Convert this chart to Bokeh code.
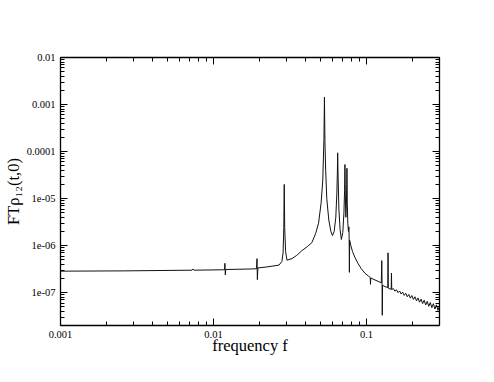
import numpy as np
from bokeh.plotting import figure
from bokeh.models import Range1d, LogAxis, LogTicker, CustomJSTickFormatter
from bokeh.embed import file_html
from bokeh.resources import INLINE

# ---- data ----
freq = [0.00100, 0.00257, 0.00725, 0.00736, 0.00747, 0.01144, 0.01180, 0.01187, 0.01195, 0.01202,
        0.01791, 0.01910, 0.01925, 0.01935, 0.01950, 0.02240, 0.02680, 0.02800, 0.02850, 0.02880,
        0.02900, 0.02920, 0.02960, 0.03020, 0.03260, 0.03500, 0.03780, 0.04100, 0.04390, 0.04650,
        0.04860, 0.05050, 0.05180, 0.05270, 0.05310, 0.05350, 0.05410, 0.05500, 0.05670, 0.05850,
        0.05990, 0.06150, 0.06300, 0.06400, 0.06450, 0.06480, 0.06520, 0.06600, 0.06720, 0.06850,
        0.07000, 0.07120, 0.07190, 0.07230, 0.07270, 0.07330, 0.07390, 0.07430, 0.07450, 0.07490,
        0.07550, 0.07620, 0.07670, 0.07700, 0.07730, 0.07760, 0.07900, 0.08100, 0.08400, 0.08830,
        0.09200, 0.09750, 0.10300, 0.10580, 0.10620, 0.10660, 0.11200, 0.11910, 0.12500, 0.12580,
        0.12640, 0.12680, 0.12740, 0.13000, 0.13400, 0.13780, 0.13830, 0.13880, 0.13960, 0.14500,
        0.14560, 0.14620]
ft = [2.86e-7, 2.90e-7, 3.00e-7, 3.19e-7, 3.00e-7, 3.06e-7, 3.07e-7, 4.20e-7, 2.38e-7, 3.10e-7,
      3.19e-7, 3.22e-7, 5.28e-7, 1.89e-7, 3.35e-7, 3.52e-7, 3.85e-7, 4.60e-7, 7.00e-7, 2.40e-6,
      2.00e-5, 2.40e-6, 7.50e-7, 4.90e-7, 5.30e-7, 6.20e-7, 7.80e-7, 9.50e-7, 1.15e-6, 1.80e-6,
      3.00e-6, 8.00e-6, 2.50e-5, 1.80e-4, 1.43e-3, 1.60e-4, 4.00e-5, 1.00e-5, 3.50e-6, 2.00e-6,
      1.63e-6, 2.00e-6, 4.00e-6, 1.30e-5, 3.50e-5, 9.40e-5, 3.00e-5, 6.00e-6, 2.20e-6, 1.35e-6,
      1.90e-6, 5.00e-6, 1.50e-5, 5.30e-5, 1.20e-5, 4.00e-6, 8.00e-6, 2.00e-5, 4.40e-5, 8.00e-6,
      3.00e-6, 2.00e-6, 2.50e-6, 1.60e-6, 2.70e-7, 1.30e-6, 1.00e-6, 7.50e-7, 5.60e-7, 4.10e-7,
      3.30e-7, 2.60e-7, 2.25e-7, 2.10e-7, 1.50e-7, 2.05e-7, 1.90e-7, 1.74e-7, 1.62e-7, 4.80e-7,
      1.50e-7, 3.30e-8, 1.45e-7, 1.38e-7, 1.32e-7, 1.28e-7, 7.00e-7, 1.25e-7, 1.22e-7, 1.18e-7,
      2.60e-7, 1.17e-7]
# noisy high-frequency tail
tail_freq = [0.1500, 0.1535, 0.1571, 0.1608, 0.1646, 0.1684, 0.1723, 0.1764, 0.1805, 0.1847,
             0.1890, 0.1934, 0.1980, 0.2026, 0.2073, 0.2122, 0.2171, 0.2222, 0.2274, 0.2327,
             0.2382, 0.2437, 0.2494, 0.2553, 0.2612, 0.2673, 0.2736, 0.2800, 0.2865, 0.2932, 0.3000]
tail_ft = [1.213e-7, 1.072e-7, 1.146e-7, 1.002e-7, 1.084e-7, 9.35e-8, 1.023e-7, 8.75e-8, 9.68e-8, 8.18e-8,
           9.14e-8, 7.64e-8, 8.65e-8, 7.16e-8, 8.17e-8, 6.70e-8, 7.71e-8, 6.27e-8, 7.28e-8, 5.85e-8,
           6.90e-8, 5.47e-8, 6.52e-8, 5.12e-8, 6.15e-8, 4.79e-8, 5.82e-8, 4.48e-8, 5.50e-8, 4.19e-8, 5.19e-8]

x_ticks = [0.001, 0.01, 0.1]
x_labels = ["0.001", "0.01", "0.1"]
y_ticks = [1e-7, 1e-6, 1e-5, 1e-4, 1e-3, 1e-2]
y_labels = ["1e-07", "1e-06", "1e-05", "0.0001", "0.001", "0.01"]
x_title = "frequency f"
y_title = "FT\u03c1\u2081\u2082(t,0)"

FONT = "Liberation Serif"

p = figure(width=494, height=382, x_axis_type="log", y_axis_type="log",
           x_range=Range1d(0.001, 0.3), y_range=Range1d(2e-8, 0.01),
           output_backend="svg", toolbar_location=None,
           min_border_left=57, min_border_right=55, min_border_top=57, min_border_bottom=57)
p.background_fill_color = "white"
p.border_fill_color = "white"
p.outline_line_color = None
p.xgrid.visible = False
p.ygrid.visible = False

fmt_code = """
const lt = Math.log10(tick);
for (let i = 0; i < tv.length; i++) {
  if (Math.abs(Math.log10(tv[i]) - lt) < 1e-6) return tl[i];
}
return "";
"""
xfmt = CustomJSTickFormatter(args=dict(tv=x_ticks, tl=x_labels), code=fmt_code)
yfmt = CustomJSTickFormatter(args=dict(tv=y_ticks, tl=y_labels), code=fmt_code)


def style(ax):
    ax.axis_line_color = "black"
    ax.axis_line_width = 1.3
    ax.major_tick_line_color = "black"
    ax.minor_tick_line_color = "black"
    ax.major_tick_line_width = 1
    ax.minor_tick_line_width = 1
    ax.major_tick_in = 7
    ax.major_tick_out = 0
    ax.minor_tick_in = 4
    ax.minor_tick_out = 0
    ax.major_label_text_font = FONT
    ax.major_label_text_font_size = "10.5px"
    ax.major_label_text_color = "black"


xa = p.xaxis[0]
xa.ticker = LogTicker(num_minor_ticks=10)
xa.formatter = xfmt
style(xa)
xa.major_label_standoff = 5
xa.axis_label = x_title
xa.axis_label_text_font = FONT
xa.axis_label_text_font_size = "16.5px"
xa.axis_label_text_font_style = "normal"
xa.axis_label_text_color = "black"
xa.axis_label_standoff = -5

ya = p.yaxis[0]
ya.ticker = LogTicker(num_minor_ticks=10)
ya.formatter = yfmt
style(ya)
ya.major_label_standoff = 5
ya.axis_label = y_title
ya.axis_label_text_font = FONT
ya.axis_label_text_font_size = "16.5px"
ya.axis_label_text_font_style = "normal"
ya.axis_label_text_color = "black"
ya.axis_label_standoff = 1

top = LogAxis(ticker=LogTicker(num_minor_ticks=10), formatter=CustomJSTickFormatter(code="return '';"))
style(top)
p.add_layout(top, "above")
right = LogAxis(ticker=LogTicker(num_minor_ticks=10), formatter=CustomJSTickFormatter(code="return '';"))
style(right)
p.add_layout(right, "right")

p.line(freq + tail_freq, ft + tail_ft, line_color="#111111", line_width=1)

open("out.html", "w").write(file_html(p, INLINE))
